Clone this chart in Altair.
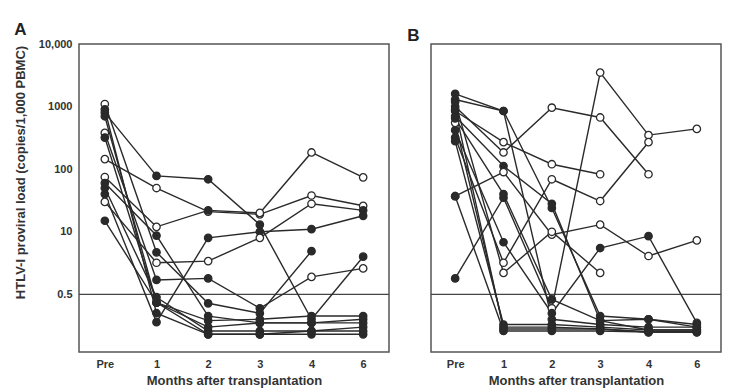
import altair as alt
import pandas as pd

months = ["Pre", "1", "2", "3", "4", "6"]
y_ticks = [1, 10, 100, 1000, 10000]
y_tick_labels = ["0.5", "10", "100", "1000", "10,000"]
cutoff = [1]

# Panel A: one list per patient (values in axis units, None = no sample)
panel_a_loads = [
    [800, 78, 69, 13, 0.40, 4.0],
    [145, 50, 21, 19, 38, 26],
    [75, 12, 22, 20, 185, 74],
    [40, 0.36, 8.0, 10, 11, 18],
    [30, 3.2, 3.4, 8.0, 28, 22],
    [380, 1.7, 1.8, 0.6, 1.9, 2.6],
    [1100, 4.7, 0.72, 0.5, 4.9, None],
    [700, 0.74, 0.38, 0.40, 0.45, 0.45],
    [320, 0.74, 0.30, 0.35, 0.35, 0.40],
    [50, 0.90, 0.26, 0.26, 0.26, 0.30],
    [900, 0.50, 0.23, 0.23, 0.23, 0.23],
    [15, 0.74, 0.23, 0.23, 0.26, 0.26],
    [60, 8.7, 0.45, 0.35, 0.35, 0.35],
]
panel_a_marks = [
    "ffffff", "oooooo", "oofooo", "ffffff", "ooooof", "offfoo", "offff-",
    "ffffff", "ffffff", "ffffff", "ffffff", "ffffff", "ffffff",
]

# Panel B
panel_b_loads = [
    [1600, 850, 24, 0.45, 0.40, 0.33],
    [1300, 850, 0.40, 0.33, 0.30, 0.30],
    [1000, 185, 960, 670, 83, None],
    [850, 270, 120, 83, None, None],
    [700, 112, 28, 0.38, 0.27, 0.27],
    [37, 90, 9.0, 13, 4.1, 7.3],
    [1.8, 35, 0.6, 3500, 350, 440],
    [420, 6.8, 0.50, 5.5, 8.5, 0.35],
    [320, 3.2, 69, 31, 270, None],
    [280, 0.33, 0.33, 0.30, 0.27, 0.27],
    [550, 0.30, 0.30, 0.28, 0.25, 0.25],
    [900, 0.28, 0.28, 0.28, 0.25, 0.25],
    [650, 40, 0.83, 0.38, 0.40, 0.30],
    [37, 0.26, 0.26, 0.26, 0.25, 0.25],
    [1200, 2.2, 10, 2.2, None, None],
]
panel_b_marks = [
    "ffffff", "ffffff", "fooooo", "fooo--", "ffffff", "fooooo", "ffoooo",
    "ffffff", "fooooo", "ffffff", "offfff", "ffffff", "ffffff", "ffffff",
    "fooo--",
]


def long_rows(panel, loads, marks):
    rows = []
    for i, (vals, mk) in enumerate(zip(loads, marks)):
        for j, v in enumerate(vals):
            if v is None:
                continue
            rows.append(dict(patient=f"{panel}{i}", month=months[j], idx=j,
                             load=v, marker=mk[j]))
    return pd.DataFrame(rows)


label_expr = " : ".join(
    f"datum.value == {v} ? '{t}'" for v, t in zip(y_ticks, y_tick_labels)
) + " : ''"

FONT = "Liberation Sans"
INK = "#2a2a2a"


def panel(df, letter, show_y, width, title_dx):
    x = alt.X("month:O", sort=months,
              scale=alt.Scale(type="point", padding=0.5),
              axis=alt.Axis(title="Months after transplantation", labelAngle=0,
                            labelPadding=6, titlePadding=5, titleFontSize=13))
    yscale = alt.Scale(type="log", domain=[0.12, 10000])
    if show_y:
        yaxis = alt.Axis(values=y_ticks, labelExpr=label_expr,
                         title="HTLV-I proviral load (copies/1,000 PBMC)",
                         labelPadding=7, titlePadding=11, titleFontSize=13,
                         titleY=128)
    else:
        yaxis = None
    y = alt.Y("load:Q", scale=yscale, axis=yaxis)
    rule = alt.Chart(pd.DataFrame({"load": cutoff})).mark_rule(
        color="#444", strokeWidth=1.3).encode(y=y)
    lines = alt.Chart(df).mark_line(color=INK, strokeWidth=1.4).encode(
        x=x, y=y, detail="patient:N", order="idx:Q")
    pts = alt.Chart(df).mark_point(
        shape="circle", filled=True, size=55, stroke=INK, strokeWidth=1.3,
        opacity=1, fillOpacity=1).encode(
        x=x, y=y,
        fill=alt.Fill("marker:N", scale=alt.Scale(domain=["o", "f"],
                                                  range=["white", INK]),
                      legend=None))
    return alt.layer(rule, lines, pts).properties(
        width=width, height=308,
        title=alt.TitleParams(letter, anchor="start", frame="bounds",
                              fontSize=17, fontWeight="bold", font=FONT,
                              color="#222", dx=title_dx, dy=5, offset=4))


df_a = long_rows("a", panel_a_loads, panel_a_marks)
df_b = long_rows("b", panel_b_loads, panel_b_marks)

chart = alt.hconcat(
    panel(df_a, "A", True, 310, 0),
    panel(df_b, "B", False, 290, -23),
    spacing=15,
).properties(
    padding={"left": 5, "top": 12, "right": 0, "bottom": 0}
).configure_view(
    stroke="#555", strokeWidth=1.5
).configure_axis(
    domain=False, ticks=False, grid=False,
    labelFont=FONT, labelFontWeight="bold", labelFontSize=11, labelColor="#333",
    titleFont=FONT, titleFontWeight="bold", titleColor="#333"
)

chart.save("out.html", embed_options={"renderer": "svg", "actions": False})
